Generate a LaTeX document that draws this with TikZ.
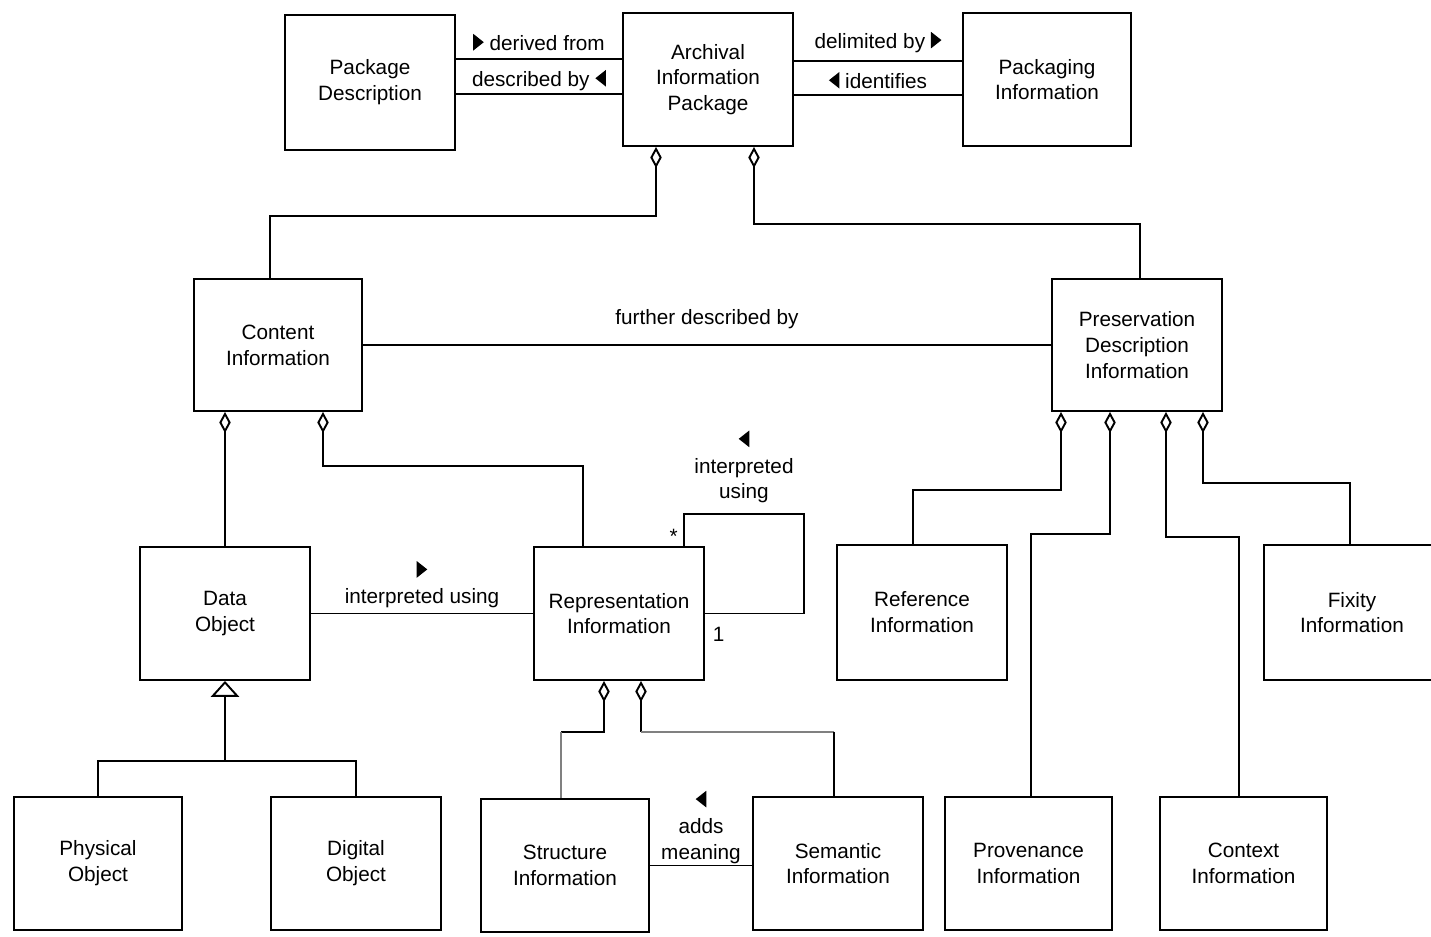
\documentclass[tikz,border=0pt]{standalone}
\usepackage{fontspec}
\setmainfont{Liberation Sans}
\usetikzlibrary{arrows.meta,positioning}
\tikzset{box/.style={draw,minimum width=3.4cm,minimum height=2.66cm,align=center,inner sep=0pt},
  lbl/.style={align=center,inner sep=2pt},
  agg/.style={{Diamond[open,length=12pt,width=6.5pt]}-},
  gen/.style={{Triangle[open,length=9pt,width=16pt]}-},
  grayline/.style={black!50,line width=1.4pt}}
\newcommand{\dirR}{\tikz[baseline=0pt]\fill (0pt,0pt) -- (0pt,9.5pt) -- (6pt,4.75pt) -- cycle;}
\newcommand{\dirL}{\tikz[baseline=0pt]\fill (6pt,0pt) -- (6pt,9.5pt) -- (0pt,4.75pt) -- cycle;}
\begin{document}
\begin{tikzpicture}[x=0.02cm,y=-0.02cm,line width=1.1pt,font=\fontsize{11.8}{14.7}\selectfont]
    \useasboundingbox (0,0) rectangle (1431,937);

    \node[box,minimum height=2.7cm] (pd) at (370,82.5) {Package\\Description};
    \node[box] (aip) at (708,79.5) {Archival\\Information\\Package};
    \node[box,minimum width=3.36cm] (pki) at (1047,79.5) {Packaging\\Information};
    \node[box,minimum width=3.36cm,minimum height=2.64cm] (ci) at (278,345) {Content\\Information};
    \node[box,minimum height=2.64cm] (pdi) at (1137,345) {Preservation\\Description\\Information};
    \node[box] (do) at (225,613.5) {Data\\Object};
    \node[box] (ri) at (619,613.5) {Representation\\Information};
    \node[box,minimum height=2.7cm] (ref) at (922,612.5) {Reference\\Information};
    \node[box,minimum width=3.52cm,minimum height=2.7cm] (fix) at (1352,612.5) {Fixity\\Information};
    \node[box,minimum width=3.36cm] (po) at (98,863.5) {Physical\\Object};
    \node[box] (dgo) at (356,863.5) {Digital\\Object};
    \node[box,minimum width=3.36cm] (str) at (565,865.5) {Structure\\Information};
    \node[box] (sem) at (838,863.5) {Semantic\\Information};
    \node[box,minimum width=3.34cm] (prov) at (1028.5,863.5) {Provenance\\Information};
    \node[box,minimum width=3.34cm] (ctx) at (1243.5,863.5) {Context\\Information};

    \draw ([yshift=0.47cm]pd.east) -- node[lbl,above=2.5pt]{\dirR\ derived from} node[lbl,below=4pt]{described by \dirL} ([yshift=0.41cm]aip.west);
    \draw ([yshift=-0.23cm]pd.east) -- ([yshift=-0.29cm]aip.west);
    \draw ([yshift=0.37cm]aip.east) -- node[lbl,above=2.5pt]{delimited by \dirR} node[lbl,below=4pt]{\dirL\ identifies} ([yshift=0.37cm]pki.west);
    \draw ([yshift=-0.31cm]aip.east) -- ([yshift=-0.31cm]pki.west);

    \draw[agg] ([xshift=-1.04cm]aip.south) -- ++(0,69) -| ([xshift=-0.16cm]ci.north);
    \draw[agg] ([xshift=0.92cm]aip.south) -- ++(0,77) -| ([xshift=0.06cm]pdi.north);
    \draw (ci.east) -- node[lbl,above=6.5pt]{further described by} (ci.east -| pdi.west);

    \draw[agg] (ci.south -| do.north) -- (do.north);
    \draw[agg] ([xshift=0.9cm]ci.south) -- ++(0,54) -| ([xshift=-0.72cm]ri.north);
    \draw (do.east) -- node[lbl,above=1pt]{\dirR\\interpreted using} (ri.west);
    \draw ([xshift=1.3cm]ri.north) node[lbl,above left={1pt and 3pt},inner sep=0pt]{*} -- ++(0,-32) -- node[lbl,above=4pt]{\dirL\\interpreted\\using} ++(120,0) |- (ri.east) node[lbl,below right={7pt and 4pt},inner sep=0pt]{1};

    \draw[gen] (do.south) -- ++(0,80) coordinate (gfork);
    \draw (po.north) |- (gfork) -| (dgo.north);

    \draw[agg] ([xshift=-0.3cm]ri.south) -- ++(0,51) -- ++(-43,0) coordinate (sbend);
    \draw[grayline] (sbend) -- (sbend |- str.north);
    \coordinate (semtop) at ([xshift=-0.08cm]sem.north);
    \draw[agg] ([xshift=0.44cm]ri.south) -- ++(0,51) coordinate (mbend);
    \draw[grayline] (mbend) -- (mbend -| semtop);
    \draw (mbend -| semtop) -- (semtop);
    \draw (str.east) -- node[lbl,above=0pt,inner sep=1pt]{\dirL\\adds\\meaning} (str.east -| sem.west);

    \draw[agg] ([xshift=-1.52cm]pdi.south) -- ++(0,78) -| ([xshift=-0.18cm]ref.north);
    \draw[agg] ([xshift=-0.54cm]pdi.south) -- ++(0,122) -| ([xshift=0.05cm]prov.north);
    \draw[agg] ([xshift=0.58cm]pdi.south) -- ++(0,125) -| ([xshift=-0.09cm]ctx.north);
    \draw[agg] ([xshift=1.32cm]pdi.south) -- ++(0,71) -| ([xshift=-0.04cm]fix.north);
\end{tikzpicture}
\end{document}
